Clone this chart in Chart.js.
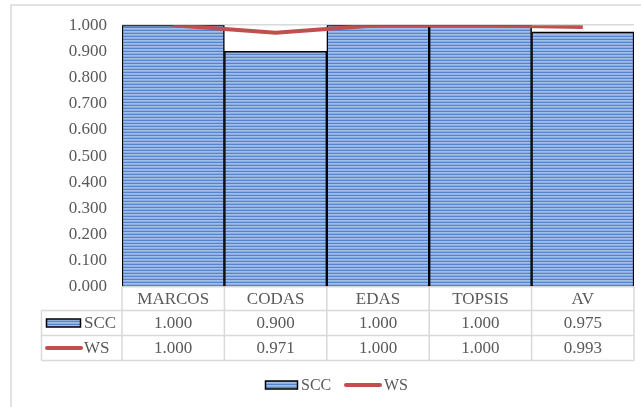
<!DOCTYPE html>
<html>
<head>
<meta charset="utf-8">
<script src="https://cdn.jsdelivr.net/npm/chart.js@4"></script>
<style>
  html, body { margin: 0; padding: 0; background: #fff; }
  #wrap { width: 641px; height: 407px; position: relative; }
</style>
</head>
<body>
<div id="wrap"><canvas id="c" width="641" height="407"></canvas></div>
<script>
// Methods compared
const categories = ['MARCOS', 'CODAS', 'EDAS', 'TOPSIS', 'AV'];
// Series values
const sccValues = [1.000, 0.900, 1.000, 1.000, 0.975];
const wsValues  = [1.000, 0.971, 1.000, 1.000, 0.993];
const seriesNames = ['SCC', 'WS'];
// Y axis ticks
const yTicks = [0, 0.1, 0.2, 0.3, 0.4, 0.5, 0.6, 0.7, 0.8, 0.9, 1.0];

const FONT = '"Liberation Serif", "Times New Roman", serif';
const TEXT = '#595959';
const LINE_GRAY = '#d9d9d9';
const RED = '#c0504d';

// Horizontal-stripe fill for the bars
function stripePattern() {
  const p = document.createElement('canvas');
  p.width = 4; p.height = 3;
  const g = p.getContext('2d');
  const rows = ['#5583cd', '#a3bee6', '#8eaedf'];
  rows.forEach((c, i) => { g.fillStyle = c; g.fillRect(0, i, 4, 1); });
  return document.getElementById('c').getContext('2d').createPattern(p, 'repeat');
}
const stripes = stripePattern();

function drawBarKey(ctx, x, y, w, h) {
  ctx.fillStyle = stripes;
  ctx.fillRect(x, y, w, h);
  ctx.strokeStyle = '#000';
  ctx.lineWidth = 1.5;
  ctx.strokeRect(x, y, w, h);
}
function drawLineKey(ctx, x, y, w) {
  ctx.strokeStyle = RED;
  ctx.lineWidth = 4;
  ctx.lineCap = 'round';
  ctx.beginPath();
  ctx.moveTo(x, y);
  ctx.lineTo(x + w, y);
  ctx.stroke();
  ctx.lineCap = 'butt';
}

// Outer frame, data table under the plot and the legend
const tablePlugin = {
  id: 'dataTable',
  beforeDraw(chart) {
    const ctx = chart.ctx;
    ctx.save();
    ctx.strokeStyle = LINE_GRAY;
    ctx.lineWidth = 1.5;
    ctx.beginPath();
    ctx.moveTo(11, 407);
    ctx.lineTo(11, 5);
    ctx.lineTo(641, 5);
    ctx.stroke();
    ctx.restore();
  },
  afterDraw(chart) {
    const ctx = chart.ctx;
    const x = chart.scales.x;
    const area = chart.chartArea;
    const top = area.bottom;
    const r1 = top + 23.5, r2 = r1 + 25, r3 = r2 + 25;
    const tableLeft = 41.5;
    const n = categories.length;
    const colW = (area.right - area.left) / n;

    ctx.save();
    ctx.strokeStyle = LINE_GRAY;
    ctx.lineWidth = 1.5;
    ctx.beginPath();
    // horizontal rules
    [r1, r2, r3].forEach(y => { ctx.moveTo(tableLeft, y); ctx.lineTo(area.right, y); });
    // vertical rules
    for (let i = 0; i <= n; i++) {
      const vx = area.left + i * colW;
      ctx.moveTo(vx, top); ctx.lineTo(vx, r3);
    }
    ctx.moveTo(tableLeft, r1); ctx.lineTo(tableLeft, r3);
    ctx.stroke();

    ctx.fillStyle = TEXT;
    ctx.font = '17px ' + FONT;
    ctx.textAlign = 'center';
    ctx.textBaseline = 'middle';
    categories.forEach((c, i) => {
      const cx = x.getPixelForValue(i);
      ctx.fillText(c, cx, (top + r1) / 2 + 1);
      ctx.fillText(sccValues[i].toFixed(3), cx, (r1 + r2) / 2 + 1);
      ctx.fillText(wsValues[i].toFixed(3), cx, (r2 + r3) / 2 + 1);
    });

    // row headers with series keys
    drawBarKey(ctx, 46.5, (r1 + r2) / 2 - 4, 34, 8);
    drawLineKey(ctx, 47, (r2 + r3) / 2, 34);
    ctx.fillStyle = TEXT;
    ctx.textAlign = 'left';
    ctx.fillText(seriesNames[0], 84, (r1 + r2) / 2 + 1);
    ctx.fillText(seriesNames[1], 84, (r2 + r3) / 2 + 1);

    // legend
    const ly = 385;
    drawBarKey(ctx, 265.5, ly - 4, 32, 8);
    ctx.fillStyle = TEXT;
    ctx.font = '16px ' + FONT;
    ctx.fillText(seriesNames[0], 301, ly + 1);
    drawLineKey(ctx, 346, ly, 34);
    ctx.fillStyle = TEXT;
    ctx.fillText(seriesNames[1], 384, ly + 1);
    ctx.restore();
  }
};

new Chart(document.getElementById('c'), {
  data: {
    labels: categories,
    datasets: [
      {
        type: 'line',
        label: seriesNames[1],
        data: wsValues,
        borderColor: RED,
        borderWidth: 4,
        pointRadius: 0,
        tension: 0,
        order: 0
      },
      {
        type: 'bar',
        label: seriesNames[0],
        data: sccValues,
        backgroundColor: stripes,
        borderColor: '#000',
        borderWidth: 1.5,
        barPercentage: 1,
        categoryPercentage: 1,
        order: 1
      }
    ]
  },
  options: {
    responsive: false,
    animation: false,
    layout: { padding: { left: 0, right: 7, top: 24, bottom: 120 } },
    plugins: { legend: { display: false }, tooltip: { enabled: false } },
    scales: {
      x: { display: false },
      y: {
        min: 0, max: 1,
        afterBuildTicks(scale) { scale.ticks = yTicks.map(v => ({ value: v })); },
        afterFit(scale) { scale.width = 122; },
        border: { display: false },
        grid: { color: LINE_GRAY, lineWidth: 1.5, drawTicks: false },
        ticks: {
          padding: 15,
          color: TEXT,
          font: { family: FONT, size: 17 },
          callback: v => Number(v).toFixed(3)
        }
      }
    }
  },
  plugins: [tablePlugin]
});
</script>
</body>
</html>
